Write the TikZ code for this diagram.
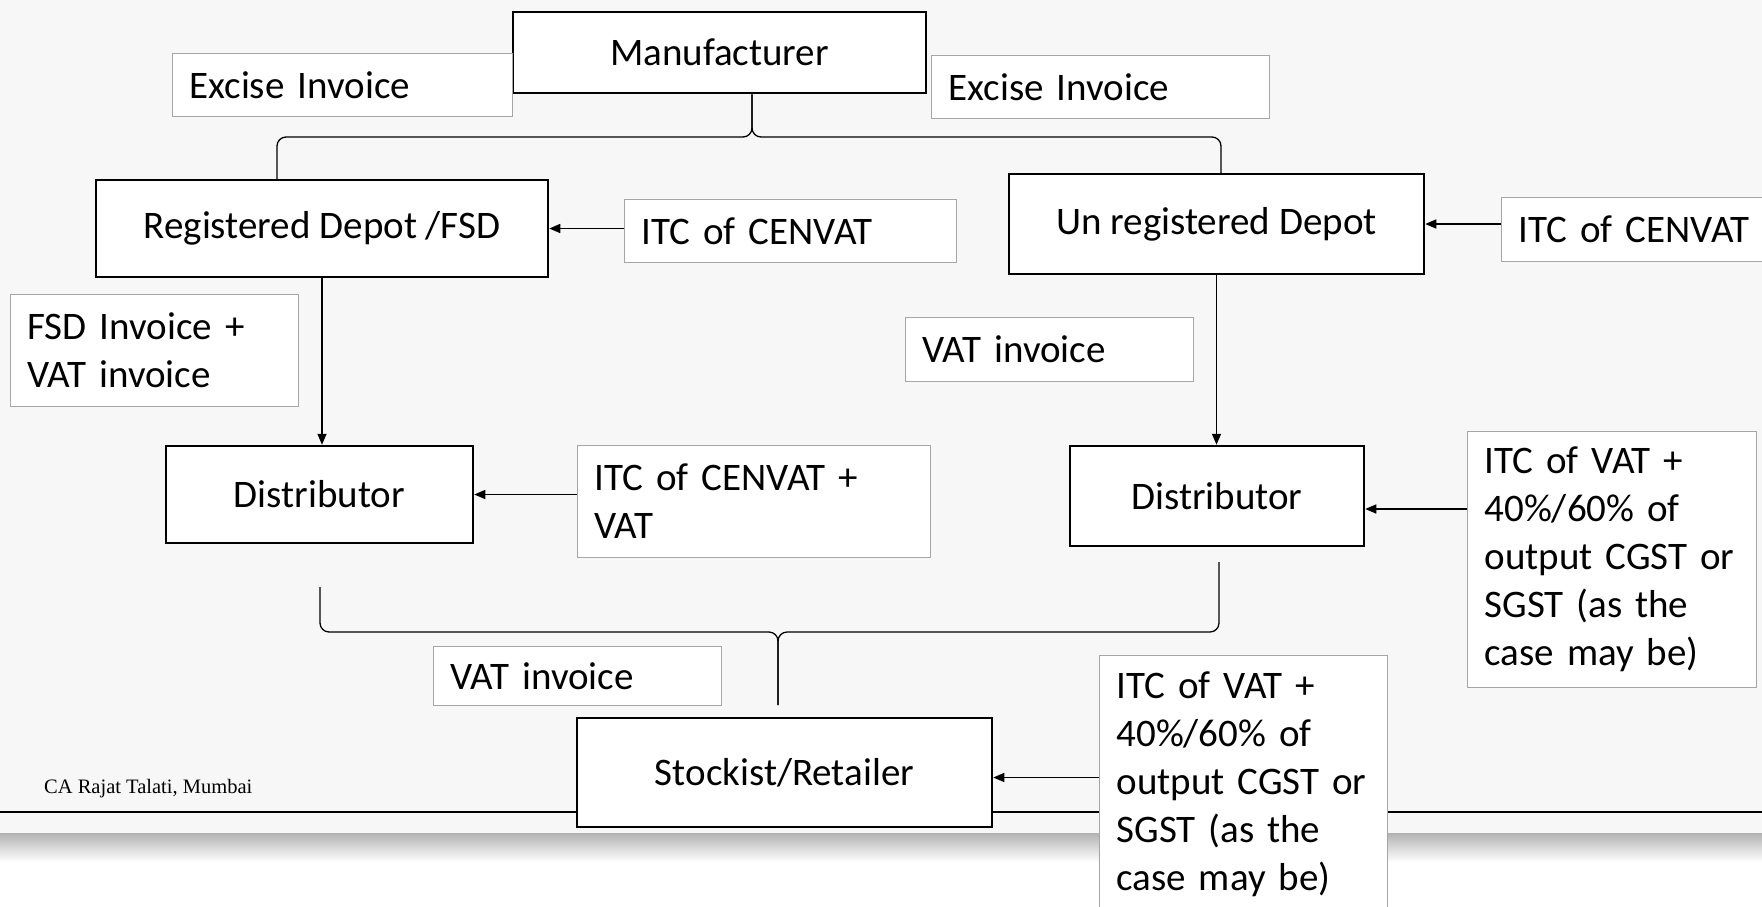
\documentclass[tikz,border=0pt]{standalone}
\usepackage{fontspec}
\setmainfont{Carlito}
\newfontfamily\footfont{Liberation Serif}
\usetikzlibrary{calc,arrows.meta,positioning}
\definecolor{slidebg}{HTML}{F7F7F7}
\definecolor{notegray}{HTML}{A6A6A6}
\tikzset{
  entity/.style={draw=black,line width=2.5pt,fill=white,inner sep=0pt},
  note/.style={draw=notegray,line width=1pt,fill=white,align=left,anchor=north west,inner xsep=17pt,inner ysep=0pt},
  arr/.style={-{Triangle[length=11pt,width=9pt]},line width=1.5pt},
  brace/.style={line width=1.3pt,rounded corners=9pt},
}
\newcommand{\slidetxt}{\fontsize{39}{48}\selectfont}

\begin{document}
\begin{tikzpicture}[x=1pt,y=-1pt,every node/.style={font=\slidetxt}]
    \useasboundingbox (0,0) rectangle (1762,906);
    % slide background and shadow
    \fill[slidebg] (0,0) rectangle (1762,833);
    \shade[top color=gray!60,bottom color=white] (0,833) rectangle (1762,862);
    % footer rule
    \draw[line width=2.5pt] (0,812) -- (1762,812);
    \node[font=\footfont\fontsize{20.5}{24}\selectfont,anchor=west,inner sep=0pt] (credit) at (44,789) {CA Rajat Talati, Mumbai};
    % main entities
    \node[entity,minimum width=413pt,minimum height=81pt] (manu) at (719.5,52.5) {Manufacturer};
    \node[entity,minimum width=452pt,minimum height=97pt] (regdepot) at (322,228.5) {Registered Depot /FSD};
    \node[entity,minimum width=415pt,minimum height=100pt] (undepot) at (1216.5,224) {Un registered Depot};
    \node[entity,minimum width=307pt,minimum height=97pt] (distL) at (319.5,494.5) {Distributor};
    \node[entity,minimum width=294pt,minimum height=100pt] (distR) at (1217,496) {Distributor};
    \node[entity,minimum width=415pt,minimum height=109pt] (stock) at (784.5,772.5) {Stockist/Retailer};
    % notes
    \node[note,text width=306pt,minimum height=63pt] (excL) at (172,53) {Excise Invoice};
    \node[note,text width=304pt,minimum height=63pt] (excR) at (931,55) {Excise Invoice};
    \node[note,text width=298pt,minimum height=63pt] (itcA) at (624,199) {ITC of CENVAT};
    \node[note,text width=246pt,minimum height=64pt] (itcB) at (1501,197) {ITC of CENVAT};
    \node[note,text width=254pt,minimum height=112pt] (fsdInv) at (10,294) {FSD Invoice +\\VAT invoice};
    \node[note,text width=254pt,minimum height=64pt] (vatInv) at (905,317) {VAT invoice};
    \node[note,text width=319pt,minimum height=112pt] (itcVat) at (577,445) {ITC of CENVAT +\\VAT};
    \node[note,text width=255pt,minimum height=256pt] (itcR) at (1467,431) {ITC of VAT +\\40\%/60\% of\\output CGST or\\SGST (as the\\case may be)};
    \node[note,text width=254pt,minimum height=59pt] (vatInv2) at (433,646) {VAT invoice};
    \node[note,text width=254pt,minimum height=258pt] (itcS) at (1099,655) {ITC of VAT +\\40\%/60\% of\\output CGST or\\SGST (as the\\case may be)};
    % arrows
    \draw[arr] (itcA.west |- regdepot.east) -- (regdepot.east);
    \draw[arr] (itcB.west |- undepot.east) -- (undepot.east);
    \draw[arr] (regdepot.south) -- (regdepot.south |- distL.north);
    \draw[arr] (undepot.south) -- (undepot.south |- distR.north);
    \draw[arr] (itcVat.west |- distL.east) -- (distL.east);
    \coordinate (dRin) at ($(distR.east)+(0,13)$);
    \draw[arr] (itcR.west |- dRin) -- (dRin);
    \coordinate (stIn) at ($(stock.east)+(0,5)$);
    \draw[arr] (itcS.west |- stIn) -- (stIn);
    % upper brace
    \coordinate (tbTip) at (752,137);
    \coordinate (tbL) at (277,137);
    \coordinate (tbR) at (1221,137);
    \draw[brace] (manu.south -| tbTip) -- (tbTip) -- (tbL) -- (regdepot.north -| tbL);
    \draw[brace] (manu.south -| tbTip) -- (tbTip) -- (tbR) -- (undepot.north -| tbR);
    % lower brace
    \coordinate (lbL) at (320,587);
    \coordinate (lbR) at (1219,562);
    \coordinate (lbTip) at (778,632);
    \coordinate (lbEnd) at (778,705);
    \draw[brace] (lbL) -- (lbL |- lbTip) -- (lbTip) -- (lbEnd);
    \draw[brace] (lbR) -- (lbR |- lbTip) -- (lbTip) -- (lbEnd);
  \end{tikzpicture}
\end{document}
